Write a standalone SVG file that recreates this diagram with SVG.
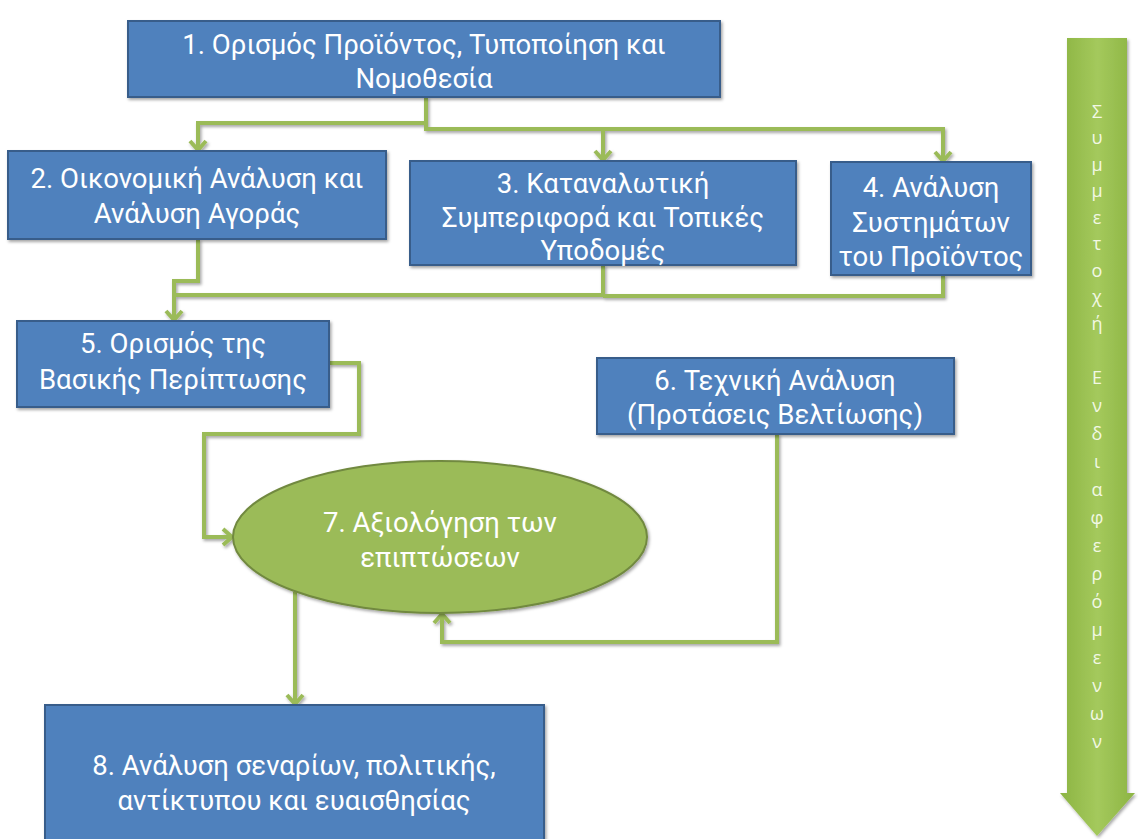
<svg xmlns="http://www.w3.org/2000/svg" width="1138" height="839" viewBox="0 0 1138 839">
<style>
.box{fill:#4f81bd;stroke:#385d8a;stroke-width:2;filter:url(#sh)}
.ell{fill:#9bbb59;stroke:#71893f;stroke-width:2;filter:url(#sh)}
.t{font-family:Roboto,"Open Sans","DejaVu Sans",sans-serif;font-size:27.5px;fill:#ffffff;text-anchor:middle}
.c{fill:none;stroke:#9bbb59;stroke-width:4;stroke-linejoin:miter}
.v{font-family:"Open Sans","DejaVu Sans",sans-serif;font-size:18px;fill:#f2f8e4;text-anchor:middle}
</style>
<defs>
<filter id="sh" x="-10%" y="-10%" width="120%" height="130%">
<feDropShadow dx="1.5" dy="2" stdDeviation="1.5" flood-color="#000" flood-opacity="0.35"/>
</filter>
<marker id="ah" markerUnits="userSpaceOnUse" viewBox="-12 -10 14 20" refX="0" refY="0" markerWidth="14" markerHeight="20" orient="auto" overflow="visible">
<path d="M-9,-8 L0,0 L-9,8" fill="none" stroke="#9bbb59" stroke-width="4"/>
</marker>
<linearGradient id="ga" x1="0" y1="0" x2="1" y2="0">
<stop offset="0" stop-color="#8cb443"/>
<stop offset="0.5" stop-color="#a4c95c"/>
<stop offset="1" stop-color="#8cb443"/>
</linearGradient>
</defs>

<g id="connectors" filter="url(#sh)">
<polyline class="c" points="426,97 426,123 198,123 198,150" marker-end="url(#ah)"/>
<polyline class="c" points="426,97 426,129 603,129 603,160" marker-end="url(#ah)"/>
<polyline class="c" points="426,129 943,129 943,161" marker-end="url(#ah)"/>
<polyline class="c" points="198,239 198,281 174,281 174,320" marker-end="url(#ah)"/>
<polyline class="c" points="603,265 603,295 174,295"/>
<polyline class="c" points="943,275 943,296 603,296"/>
<polyline class="c" points="329,363 359,363 359,434 204,434 204,537 232,537" marker-end="url(#ah)"/>
<polyline class="c" points="777,434 777,642 442,642 442,614" marker-end="url(#ah)"/>
<polyline class="c" points="295,592 295,704" marker-end="url(#ah)"/>
</g>

<g id="n1">
<rect class="box" x="128" y="21" width="592" height="76"/>
<text class="t" x="424" y="54">1. Ορισμός Προϊόντος, Τυποποίηση και</text>
<text class="t" x="424" y="88">Νομοθεσία</text>
</g>
<g id="n2">
<rect class="box" x="8" y="151" width="378" height="88"/>
<text class="t" x="197" y="188">2. Οικονομική Ανάλυση και</text>
<text class="t" x="197" y="223">Ανάλυση Αγοράς</text>
</g>
<g id="n3">
<rect class="box" x="410" y="161" width="386" height="104"/>
<text class="t" x="603" y="193">3. Καταναλωτική</text>
<text class="t" x="603" y="227">Συμπεριφορά και Τοπικές</text>
<text class="t" x="603" y="260">Υποδομές</text>
</g>
<g id="n4">
<rect class="box" x="831" y="162" width="200" height="113"/>
<text class="t" x="931" y="197">4. Ανάλυση</text>
<text class="t" x="931" y="232">Συστημάτων</text>
<text class="t" x="931" y="266">του Προϊόντος</text>
</g>
<g id="n5">
<rect class="box" x="17" y="321" width="312" height="86"/>
<text class="t" x="173" y="353">5. Ορισμός της</text>
<text class="t" x="173" y="389">Βασικής Περίπτωσης</text>
</g>
<g id="n6">
<rect class="box" x="597" y="358" width="357" height="76"/>
<text class="t" x="775" y="390">6. Τεχνική Ανάλυση</text>
<text class="t" x="775" y="424">(Προτάσεις Βελτίωσης)</text>
</g>
<g id="n7">
<ellipse class="ell" cx="440" cy="537" rx="207" ry="76"/>
<text class="t" x="440" y="532">7. Αξιολόγηση των</text>
<text class="t" x="440" y="567">επιπτώσεων</text>
</g>
<g id="n8">
<rect class="box" x="45" y="705" width="499" height="145"/>
<text class="t" x="294" y="775">8. Ανάλυση σεναρίων, πολιτικής,</text>
<text class="t" x="294" y="810">αντίκτυπου και ευαισθησίας</text>
</g>

<g id="side-arrow">
<path d="M1067,38 L1127,38 L1127,793 L1135,793 L1097,836 L1060,793 L1067,793 Z" fill="url(#ga)" filter="url(#sh)"/>
<text class="v" x="1097" y="118">Σ</text>
<text class="v" x="1097" y="144">υ</text>
<text class="v" x="1097" y="171">μ</text>
<text class="v" x="1097" y="197">μ</text>
<text class="v" x="1097" y="224">ε</text>
<text class="v" x="1097" y="250">τ</text>
<text class="v" x="1097" y="277">ο</text>
<text class="v" x="1097" y="303">χ</text>
<text class="v" x="1097" y="330">ή</text>
<text class="v" x="1097" y="384">Ε</text>
<text class="v" x="1097" y="412">ν</text>
<text class="v" x="1097" y="440">δ</text>
<text class="v" x="1097" y="468">ι</text>
<text class="v" x="1097" y="496">α</text>
<text class="v" x="1097" y="524">φ</text>
<text class="v" x="1097" y="552">ε</text>
<text class="v" x="1097" y="580">ρ</text>
<text class="v" x="1097" y="608">ό</text>
<text class="v" x="1097" y="636">μ</text>
<text class="v" x="1097" y="664">ε</text>
<text class="v" x="1097" y="692">ν</text>
<text class="v" x="1097" y="720">ω</text>
<text class="v" x="1097" y="748">ν</text>
</g>
</svg>
